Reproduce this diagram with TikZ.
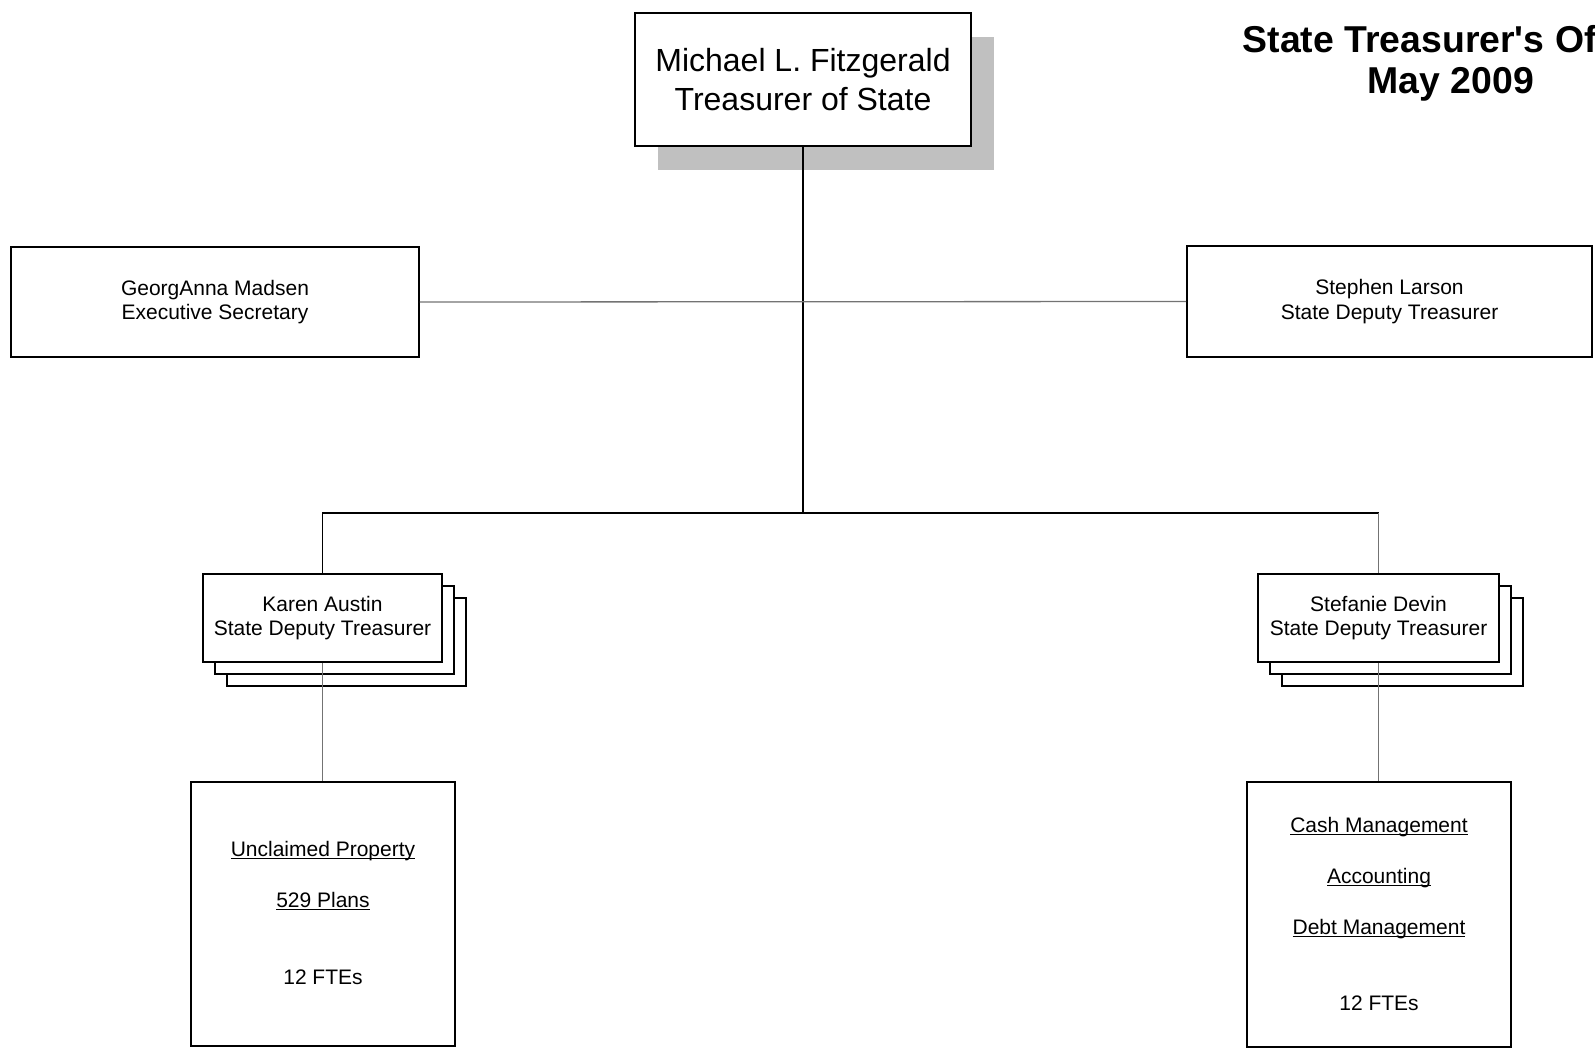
\documentclass[tikz,border=0pt]{standalone}
\usepackage{fontspec}
\setmainfont{Liberation Sans}
\tikzset{every picture/.style={line width=1.3pt}}
\tikzset{
  box/.style={draw, line width=1.8, fill=white, align=center, inner sep=0pt,
    font=\fontsize{21}{24.5}\selectfont},
  link/.style={color=black, line width=1.3},
  sublink/.style={color={rgb, 255:red, 115; green, 115; blue, 115 }, line width=1.3},
}
\newcommand{\udept}[1]{\underline{\smash{#1}}}

\begin{document}
\begin{tikzpicture}[x=1pt,y=1pt,yscale=-1,xscale=1]
\useasboundingbox (0,0) rectangle (1595,1055);

%Shape: Rectangle [shadow of treasurer]
\draw  [draw opacity=0][fill={rgb, 255:red, 192; green, 192; blue, 192 }  ,fill opacity=1 ] (658,37) -- (994,37) -- (994,170) -- (658,170) -- cycle ;
%Shape: Rectangle [treasurer]
\node [box, minimum width=336pt, minimum height=133pt, font=\fontsize{32}{39}\selectfont] (treasurer) at (803,79.5) {Michael L. Fitzgerald\\Treasurer of State};

%Text Node [title]
\node [anchor=base west, inner sep=0pt, font=\fontsize{37.4}{41}\selectfont\bfseries] (title) at (1242,52) {State Treasurer\textquotesingle s Of};
\node [anchor=base, inner sep=0pt, font=\fontsize{37.4}{41}\selectfont\bfseries] (date) at (1451,93) {May 2009};

%Shape: Rectangle [secretary]
\node [box, minimum width=408pt, minimum height=110pt] (madsen) at (215,302) {GeorgAnna Madsen\\Executive Secretary};
%Shape: Rectangle [deputy right]
\node [box, minimum width=405pt, minimum height=111pt] (larson) at (1389.5,301.5) {Stephen Larson\\State Deputy Treasurer};

%Shape: Rectangle [stack behind austin]
\draw  [line width=1.8][fill=white] (227,598) -- (466,598) -- (466,686) -- (227,686) -- cycle ;
\draw  [line width=1.8][fill=white] (215,586) -- (454,586) -- (454,674) -- (215,674) -- cycle ;
%Shape: Rectangle [austin]
\node [box, minimum width=239pt, minimum height=88pt] (austin) at (322.5,618) {Karen Austin\\State Deputy Treasurer};

%Shape: Rectangle [stack behind devin]
\draw  [line width=1.8][fill=white] (1282,598) -- (1523,598) -- (1523,686) -- (1282,686) -- cycle ;
\draw  [line width=1.8][fill=white] (1270,586) -- (1511,586) -- (1511,674) -- (1270,674) -- cycle ;
%Shape: Rectangle [devin]
\node [box, minimum width=241pt, minimum height=88pt] (devin) at (1378.5,618) {Stefanie Devin\\State Deputy Treasurer};

%Shape: Rectangle [units left]
\node [box, minimum width=264pt, minimum height=264pt] (unclaimed) at (323,914) {\rule{0pt}{14pt}\udept{Unclaimed Property}\\[26.5pt]\udept{529 Plans}\\[52.5pt]12 FTEs};
%Shape: Rectangle [units right]
\node [box, minimum width=264pt, minimum height=265pt] (cash) at (1379,914.5) {\rule{0pt}{14pt}\udept{Cash Management}\\[26.5pt]\udept{Accounting}\\[27pt]\udept{Debt Management}\\[51pt]12 FTEs};

\coordinate (junction) at (803,513) ;

%Straight Lines
\draw [link]    (treasurer.south) -- (junction) ;
%Straight Lines
\draw [sublink]    (madsen.east) -- (larson.west) ;
%Straight Lines
\draw [link]    (austin.north) |- (junction) ;
%Straight Lines
\draw [link]    (junction) -- (junction -| devin.north) ;
\draw [sublink]    (junction -| devin.north) -- (devin.north) ;
%Straight Lines
\draw [sublink]    (austin.south) -- (austin.south |- unclaimed.north) ;
%Straight Lines
\draw [sublink]    (devin.south) -- (devin.south |- cash.north) ;
\end{tikzpicture}
\end{document}
